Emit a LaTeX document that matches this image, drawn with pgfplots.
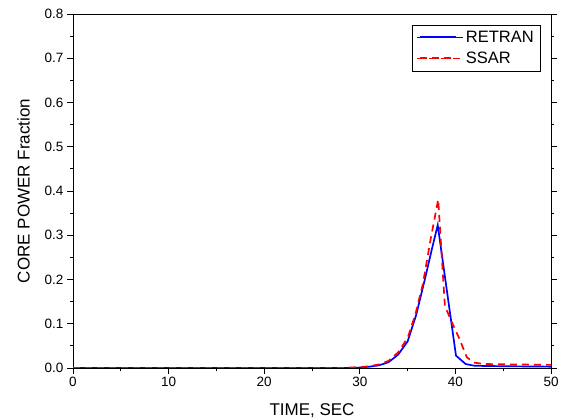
\documentclass[border=0pt]{standalone}
\usepackage{fontspec}
\setmainfont{Liberation Sans}
\usepackage{pgfplots}
\pgfplotsset{compat=1.18}
\usetikzlibrary{calc}
\begin{document}
\begin{tikzpicture}
\begin{axis}[
    name=ax,
    scale only axis,
    width=478pt, height=354pt,
    xmin=0, xmax=50, ymin=0, ymax=0.8,
    xtick={0,10,20,30,40,50},
    ytick={0,0.1,0.2,0.3,0.4,0.5,0.6,0.7,0.8},
    minor x tick num=1, minor y tick num=1,
    tick align=outside,
    xtick pos=lower,
    ytick pos=both, yticklabel pos=left,
    major tick length=6pt, minor tick length=3pt,
    every tick/.style={black, line width=0.8pt},
    axis line style={line width=0.8pt},
    /pgf/number format/assume math mode=true,
    y tick label style={/pgf/number format/fixed, /pgf/number format/fixed zerofill, /pgf/number format/precision=1},
    tick label style={font=\fontsize{13.5}{15}\selectfont},
    label style={font=\fontsize{17}{19}\selectfont},
    xlabel={TIME, SEC},
    ylabel={CORE POWER Fraction},
    xlabel shift=10pt,
    ylabel shift=8pt,
    legend style={at={(0.977,0.969)}, anchor=north east, font=\fontsize{16.5}{19}\selectfont,
      inner xsep=4pt, inner ysep=4pt, row sep=4pt},
    legend cell align=left,
    legend image code/.code={
      \path (0pt,0pt) -- (46pt,0pt);
      \draw[#1, line width=2pt] (3pt,1pt) -- (39pt,1pt);},
  ]
  % RETRAN
  \addplot[color=blue, line width=1.7pt] coordinates {
    (0,0) (29,0) (30,0.001) (31,0.003) (32,0.006) (33,0.013) (34,0.03)
    (35,0.06) (35.9,0.12) (36.8,0.2) (37.5,0.265) (38.15,0.323)
    (40.06,0.028) (41.07,0.009) (42,0.005) (45,0.004) (50,0.003)
  };
  \addlegendentry{RETRAN}
  % SSAR
  \addplot[color=red, line width=1.7pt, dash pattern=on 7pt off 5pt] coordinates {
    (0,0) (28,0) (30,0.002) (31,0.004) (32,0.008) (33,0.016) (34,0.035)
    (35,0.068) (35.8,0.12) (36.6,0.19) (37.4,0.29) (38.2,0.381)
    (38.9,0.14) (39.2,0.125) (39.7,0.10) (40.4,0.067) (41.2,0.024)
    (42,0.012) (43,0.009) (50,0.007)
  };
  \addlegendentry{SSAR}
\end{axis}
\pgfresetboundingbox
\useasboundingbox ($(ax.south west)+(-73pt,-50pt)$) rectangle ($(ax.north east)+(12pt,14pt)$);
\end{tikzpicture}
\end{document}
